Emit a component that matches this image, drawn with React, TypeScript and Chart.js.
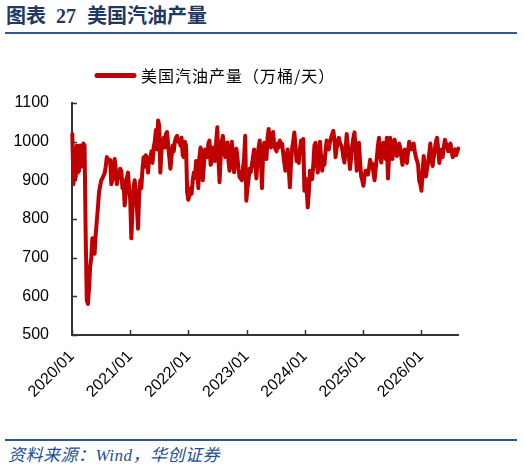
import React, { useEffect, useRef } from "react";
import { Chart, registerables } from "chart.js";

Chart.register(...registerables);

const TITLE_PARTS = ["图表", "27", "美国汽油产量"];
const SERIES_NAME = "美国汽油产量（万桶/天）";
const SOURCE = "资料来源：Wind，华创证券";
const FIRST_WEEK = [2020, 0, 3];
const YEAR_TICKS = [2020, 2021, 2022, 2023, 2024, 2025, 2026];
const Y_MIN = 500;
const Y_MAX = 1100;
const Y_STEP = 100;

// weekly values, 万桶/天
const v2020 = [
  1020, 890, 960, 905, 990, 920, 925, 990, 935, 985,
  995, 990, 760, 590, 580, 620, 675, 700, 750, 745,
  710, 760, 795, 830, 870, 885, 900, 905, 912, 918,
  935, 960, 955, 950, 952, 890, 900, 940, 955, 930,
  890, 915, 905, 930, 925, 880, 900, 835, 870, 905,
  920, 880,
];
const v2021 = [
  850, 750, 820, 880, 900, 870, 830, 775, 860, 900,
  880, 930, 960, 935, 965, 955, 920, 960, 950, 975,
  945, 985, 1000, 1030, 980, 1055, 1040, 920, 975, 1000,
  1010, 985, 1020, 1025, 990, 960, 930, 960, 990, 975,
  1000, 1010, 1015, 1000, 1005, 990, 1010, 965, 960, 1000,
  990, 870,
];
const v2022 = [
  850, 860, 880, 865, 900, 920, 905, 950, 945, 880,
  960, 985, 970, 900, 940, 980, 975, 960, 995, 1003,
  940, 950, 985, 975, 950, 1000, 1037, 960, 895, 960,
  1000, 1015, 985, 960, 975, 998, 950, 925, 960, 1000,
  960, 921, 950, 982, 960, 930, 908, 905, 900, 930,
  960, 1015,
];
const v2023 = [
  847, 880, 903, 930, 921, 940, 960, 980, 950, 905,
  950, 985, 1003, 960, 880, 965, 997, 975, 955, 1010,
  1033, 1000, 985, 1010, 1025, 990, 982, 975, 995, 985,
  1003, 990, 995, 970, 945, 925, 960, 980, 930, 882,
  940, 982, 1000, 1024, 990, 950, 960, 945, 980, 1003,
  985, 1007,
];
const v2024 = [
  873, 905, 880, 830, 870, 925, 910, 903, 940, 990,
  997, 950, 920, 960, 1000, 960, 925, 960, 940, 975,
  1003, 985, 980, 1000, 1010, 1020, 1028, 1005, 960, 985,
  1000, 1010, 997, 990, 982, 960, 946, 980, 1020, 990,
  960, 929, 960, 990, 1010, 1024, 980, 925, 960, 997,
  950, 910,
];
const v2025 = [
  900, 886, 910, 925, 920, 915, 930, 953, 940, 943,
  920, 900, 930, 958, 990, 1010, 970, 946, 975, 997,
  975, 955, 1010, 905, 960, 1010, 990, 955, 985, 1005,
  980, 963, 975, 995, 985, 960, 940, 965, 980, 960,
  945, 975, 1000, 985, 980, 990, 995, 975, 960, 951,
  940, 899,
];
const v2026 = [
  890, 873, 920, 963, 935, 910, 930, 945, 970, 995,
  960, 937, 960, 980, 1000, 1010, 980, 945, 965, 980,
  960, 985, 1005, 995, 990, 975, 985, 995, 975, 960,
  970, 980, 965, 975, 982,
];

const LINE_COLOR = "#C00000";
const AXIS_COLOR = "#333333";

const innerTicks = {
  id: "innerTicks",
  afterDraw(chart: any) {
    const { ctx, chartArea, scales } = chart;
    ctx.save();
    ctx.strokeStyle = AXIS_COLOR;
    ctx.lineWidth = 1.5;
    scales.x.ticks.forEach((t: any) => {
      const px = Math.round(scales.x.getPixelForValue(t.value)) + 0.5;
      ctx.beginPath();
      ctx.moveTo(px, chartArea.bottom);
      ctx.lineTo(px, chartArea.bottom - 5);
      ctx.stroke();
    });
    scales.y.ticks.forEach((t: any) => {
      const py = Math.round(scales.y.getPixelForValue(t.value)) + 0.5;
      ctx.beginPath();
      ctx.moveTo(chartArea.left, py);
      ctx.lineTo(chartArea.left + 5, py);
      ctx.stroke();
    });
    ctx.restore();
  },
};

const customLegend = {
  id: "customLegend",
  afterDraw(chart: any) {
    const { ctx } = chart;
    const ds = chart.data.datasets[0];
    ctx.save();
    ctx.strokeStyle = ds.borderColor;
    ctx.lineWidth = 5;
    ctx.lineCap = "round";
    ctx.beginPath();
    ctx.moveTo(97, 75.5);
    ctx.lineTo(134, 75.5);
    ctx.stroke();
    ctx.fillStyle = "#000";
    ctx.font = "16px 'Noto Sans CJK SC'";
    (ctx as any).letterSpacing = "1px";
    ctx.textBaseline = "middle";
    ctx.textAlign = "left";
    ctx.fillText(ds.label, 141, 76);
    ctx.restore();
  },
};

export default function App() {
  const ref = useRef<HTMLCanvasElement>(null);

  useEffect(() => {
    const values = [...v2020, ...v2021, ...v2022, ...v2023, ...v2024, ...v2025, ...v2026];
    const start = Date.UTC(FIRST_WEEK[0], FIRST_WEEK[1], FIRST_WEEK[2]);
    const points = values.map((v, i) => {
      const d = new Date(start + i * 7 * 86400000);
      const yr = d.getUTCFullYear();
      const y0 = Date.UTC(yr, 0, 1);
      const y1 = Date.UTC(yr + 1, 0, 1);
      return { x: yr + (d.getTime() - y0) / (y1 - y0), y: v };
    });
    const xMax = points[points.length - 1].x;

    const chart = new Chart(ref.current as HTMLCanvasElement, {
      type: "line",
      data: {
        datasets: [
          {
            label: SERIES_NAME,
            data: points,
            borderColor: LINE_COLOR,
            backgroundColor: LINE_COLOR,
            borderWidth: 4,
            borderJoinStyle: "round",
            borderCapStyle: "round",
            pointRadius: 0,
            tension: 0,
            clip: false as any,
          },
        ],
      },
      options: {
        animation: false,
        responsive: false,
        layout: { padding: { top: 103, right: 65.7, bottom: 0, left: 0 } },
        plugins: { legend: { display: false }, tooltip: { enabled: false } },
        scales: {
          x: {
            type: "linear",
            min: YEAR_TICKS[0],
            max: xMax,
            afterBuildTicks: (s: any) => {
              s.ticks = YEAR_TICKS.map((v) => ({ value: v }));
            },
            afterFit: (s: any) => {
              s.height = 85;
            },
            ticks: {
              minRotation: 45,
              maxRotation: 45,
              padding: 12,
              color: "#000",
              font: { family: "'Liberation Sans', Arial", size: 16 },
              callback: (v: any) => `${v}/01`,
            },
            grid: { drawOnChartArea: false, drawTicks: false },
            border: { color: AXIS_COLOR, width: 2 },
          },
          y: {
            min: Y_MIN,
            max: Y_MAX,
            afterFit: (s: any) => {
              s.width = 72;
            },
            ticks: {
              stepSize: Y_STEP,
              padding: 23,
              color: "#000",
              font: { family: "'Liberation Sans', Arial", size: 16 },
              callback: (v: any) => String(v),
            },
            grid: { drawOnChartArea: false, drawTicks: false },
            border: { color: AXIS_COLOR, width: 2 },
          },
        },
      },
      plugins: [innerTicks, customLegend],
    });
    return () => chart.destroy();
  }, []);

  return (
    <div style={{ position: "absolute", left: 0, top: 0, width: 524, height: 471, background: "#fff" }}>
      <div
        style={{
          position: "absolute",
          left: 6,
          top: 5,
          fontFamily: "'Liberation Serif', 'Noto Sans CJK SC'",
          fontWeight: "bold",
          fontSize: 20,
          lineHeight: "22px",
          color: "#1F3864",
          whiteSpace: "pre",
        }}
      >
        <span>{TITLE_PARTS[0]}</span>
        <span style={{ marginLeft: 10 }}>{TITLE_PARTS[1]}</span>
        <span style={{ marginLeft: 11 }}>{TITLE_PARTS[2]}</span>
      </div>
      <div style={{ position: "absolute", left: 5, top: 32, width: 512, height: 2, background: "#2E5597" }} />
      <canvas ref={ref} width={524} height={420} style={{ position: "absolute", left: 0, top: 0 }} />
      <div style={{ position: "absolute", left: 5, top: 439, width: 512, height: 2, background: "#2E5597" }} />
      <div
        style={{
          position: "absolute",
          left: 8,
          top: 446,
          fontFamily: "'Liberation Serif', 'Noto Sans CJK SC'",
          fontStyle: "italic",
          fontSize: 17,
          lineHeight: "20px",
          color: "#1F4E99",
          whiteSpace: "pre",
          letterSpacing: "0.5px",
        }}
      >
        {SOURCE}
      </div>
    </div>
  );
}
